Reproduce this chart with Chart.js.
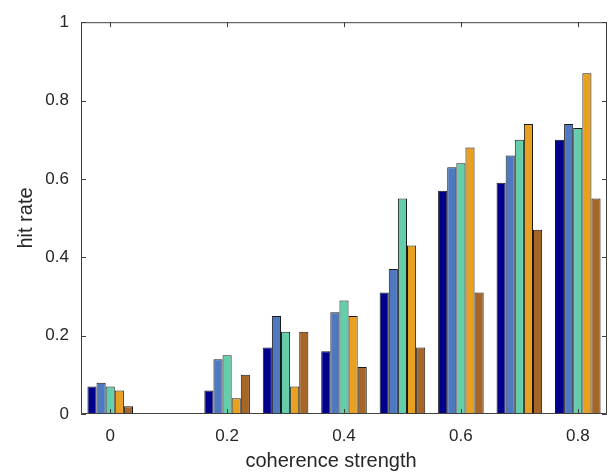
<!DOCTYPE html>
<html>
<head>
<meta charset="utf-8">
<script src="https://cdn.jsdelivr.net/npm/chart.js@4"></script>
<style>
  html, body { margin: 0; padding: 0; background: #fff; }
  #wrap { width: 609px; height: 475px; }
</style>
</head>
<body>
<div id="wrap"><canvas id="hits"></canvas></div>
<script>
// coherence levels (x categories) and hit rates per condition
const coherence = ['0', '0.1', '0.2', '0.3', '0.4', '0.5', '0.6', '0.7', '0.8'];
const cond1 = [0.07, 0, 0.06, 0.17, 0.16, 0.31, 0.57, 0.59, 0.70];
const cond2 = [0.08, 0, 0.14, 0.25, 0.26, 0.37, 0.63, 0.66, 0.74];
const cond3 = [0.07, 0, 0.15, 0.21, 0.29, 0.55, 0.64, 0.70, 0.73];
const cond4 = [0.06, 0, 0.04, 0.07, 0.25, 0.43, 0.68, 0.74, 0.87];
const cond5 = [0.02, 0, 0.10, 0.21, 0.12, 0.17, 0.31, 0.47, 0.55];
const yTicks = [0, 0.2, 0.4, 0.6, 0.8, 1];

const colors = ['#00008C', '#4E78C0', '#64CDA9', '#E8A020', '#A66628'];
const series = [cond1, cond2, cond3, cond4, cond5];

const axisColor = '#404040';
const textColor = '#262626';
const fontFamily = '"Liberation Sans", Arial, Helvetica, sans-serif';

// box around the plot with inward tick marks, drawn over the bars,
// plus the two axis labels
const boxAxes = {
  id: 'boxAxes',
  afterDatasetsDraw(chart) {
    const {ctx, chartArea: a, scales} = chart;
    const len = 5;
    ctx.save();
    ctx.strokeStyle = axisColor;
    ctx.lineWidth = 1;
    ctx.beginPath();
    ctx.rect(a.left + 0.5, a.top + 0.5, a.right - a.left - 1, a.bottom - a.top - 1);
    yTicks.forEach(v => {
      const y = Math.round(scales.y.getPixelForValue(v)) + 0.5;
      ctx.moveTo(a.left, y); ctx.lineTo(a.left + len, y);
      ctx.moveTo(a.right, y); ctx.lineTo(a.right - len, y);
    });
    coherence.forEach((c, i) => {
      if (i % 2) return;
      const x = Math.round(scales.x.getPixelForValue(i)) + 0.5;
      ctx.moveTo(x, a.bottom); ctx.lineTo(x, a.bottom - len);
      ctx.moveTo(x, a.top); ctx.lineTo(x, a.top + len);
    });
    ctx.stroke();

    ctx.fillStyle = textColor;
    ctx.font = '20px ' + fontFamily;
    ctx.textAlign = 'center';
    ctx.textBaseline = 'middle';
    ctx.fillText('coherence strength', 331, 461);
    ctx.translate(26, 218);
    ctx.rotate(-Math.PI / 2);
    ctx.fillText('hit rate', 0, 0);
    ctx.restore();
  }
};

new Chart(document.getElementById('hits'), {
  type: 'bar',
  data: {
    labels: coherence,
    datasets: series.map((d, i) => ({
      label: 'condition ' + (i + 1),
      data: d,
      backgroundColor: colors[i],
      borderColor: '#1a1a1a',
      borderWidth: 1,
      categoryPercentage: 0.78,
      barPercentage: 1
    }))
  },
  options: {
    responsive: true,
    maintainAspectRatio: false,
    animation: false,
    layout: { padding: { top: 14, right: 2, left: 0, bottom: 0 } },
    plugins: {
      legend: { display: false },
      tooltip: { enabled: false }
    },
    scales: {
      x: {
        type: 'category',
        grid: { display: false, drawTicks: false },
        border: { display: false },
        ticks: {
          autoSkip: false,
          maxRotation: 0,
          padding: 12,
          color: textColor,
          font: { family: fontFamily, size: 17 },
          callback: (v, i) => (i % 2 === 0 ? coherence[i] : '')
        },
        afterFit: s => { s.height = 61; }
      },
      y: {
        min: 0,
        max: 1,
        grid: { display: false, drawTicks: false },
        border: { display: false },
        afterBuildTicks: s => { s.ticks = yTicks.map(v => ({ value: v })); },
        ticks: {
          padding: 12,
          color: textColor,
          font: { family: fontFamily, size: 17 },
          callback: v => String(+v.toFixed(1))
        },
        afterFit: s => { s.width = 81; }
      }
    }
  },
  plugins: [boxAxes]
});
</script>
</body>
</html>
